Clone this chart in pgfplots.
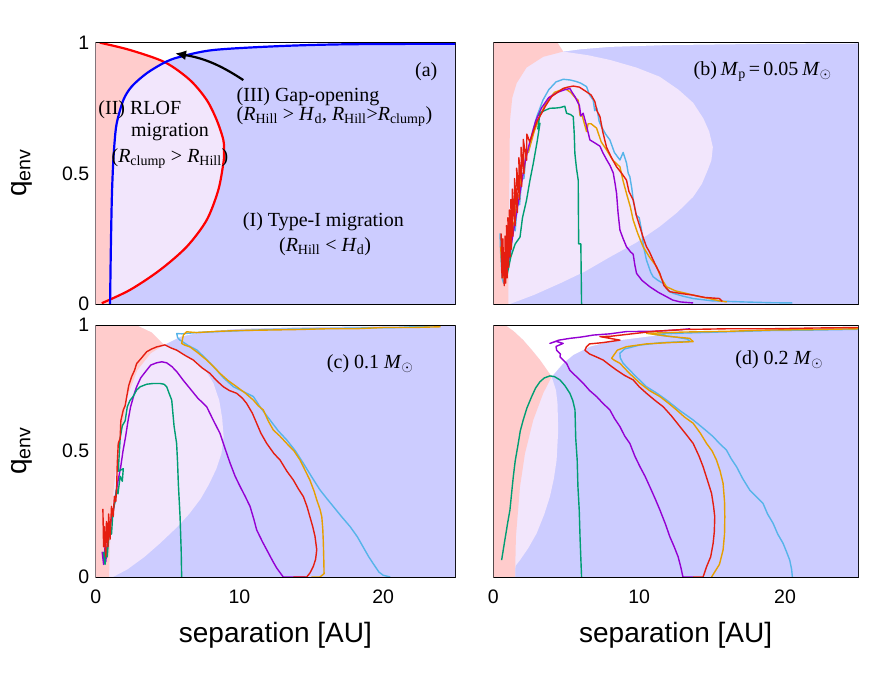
\documentclass[border=0pt]{standalone}
\usepackage{pgfplots}
\pgfplotsset{compat=1.18}
\usepackage{fontspec}
\setmainfont{Liberation Sans}
\newfontfamily\tnr{Liberation Serif}
\usetikzlibrary{arrows.meta}
\definecolor{pinkc}{RGB}{255,204,204}
\definecolor{lavc}{RGB}{242,230,252}
\definecolor{bluec}{RGB}{204,204,255}
\definecolor{gpurple}{HTML}{9400D3}
\definecolor{ggreen}{HTML}{009E73}
\definecolor{gcyan}{HTML}{56B4E9}
\definecolor{gorange}{HTML}{E69F00}
\definecolor{gred}{HTML}{E51E10}
\newcommand{\ann}{\tnr\fontsize{20}{24}\selectfont}
\newcommand{\Rs}[1]{\textit{R}\textsubscript{#1}}
\newcommand{\Hd}{\textit{H}\textsubscript{d}}
\pgfplotsset{
 panel/.style={scale only axis, anchor=south west, xmin=0, xmax=25, ymin=0, ymax=1,
  xtick={0,10,20}, minor xtick={0,1,...,25}, ytick={0,0.5,1},
  tick align=inside, major tick length=6pt, minor tick length=4pt,
  tick style={black, line width=0.6pt},
  axis line style={black, line width=1pt},
  tick label style={font=\fontsize{19.5}{21}\selectfont},
  /pgf/number format/assume math mode=true,
  yticklabel style={xshift=-3pt}, xticklabel style={yshift=-9pt},
  clip=true},
 fillp/.style={draw=none, forget plot},
 traj/.style={line width=1.4pt, forget plot, line join=round},
}
\begin{document}
\begin{tikzpicture}[x=1pt,y=1pt]
\useasboundingbox (0,0) rectangle (877,673);
% ---------------- (a)
\begin{axis}[panel, at={(95.7pt,369pt)}, width=359.3pt, height=261.3pt, xticklabels={}]
\addplot[fillp, fill=bluec] coordinates {(-1,-0.1) (26,-0.1) (26,1.1) (-1,1.1)};
\addplot[fillp, fill=white] coordinates {(-1,-0.1) (1.0,-0.1) (1.0,0) (1.05,0.2) (1.12,0.4) (1.2,0.52) (1.3,0.61) (1.46,0.691) (1.92,0.78) (2.5,0.832) (3.55,0.883) (4.82,0.925) (5.87,0.946) (8.19,0.972) (12.8,0.987) (17.5,0.994) (25,0.996) (26,0.996) (26,1.1) (-1,1.1)};
\addplot[fillp, fill=lavc] coordinates {(-1,1.1) (0.29,1.1) (0.29,1) (2.39,0.972) (4.82,0.925) (6.56,0.857) (7.72,0.781) (8.42,0.704) (8.88,0.628) (8.93,0.577) (8.88,0.538) (8.53,0.436) (7.72,0.321) (6.33,0.219) (4.47,0.130) (2.39,0.054) (0.42,0.003) (0.42,-0.1) (-1,-0.1)};
\addplot[fillp, fill=pinkc] coordinates {(-1,1.1) (0.29,1.1) (0.29,1) (2.39,0.972) (4.82,0.925) (3.55,0.883) (2.5,0.832) (1.92,0.78) (1.46,0.691) (1.3,0.61) (1.2,0.52) (1.12,0.4) (1.05,0.2) (1.0,0) (1.0,-0.1) (-1,-0.1)};
\addplot[forget plot, red, line width=2.2pt, smooth, tension=0.5] coordinates {(0.29,1) (2.39,0.972) (4.82,0.925) (6.56,0.857) (7.72,0.781) (8.42,0.704) (8.88,0.628) (8.93,0.577) (8.88,0.538) (8.53,0.436) (7.72,0.321) (6.33,0.219) (4.47,0.130) (2.39,0.054) (0.42,0.003)};
\addplot[forget plot, blue, line width=2.2pt, smooth, tension=0.5] coordinates {(1.0,0) (1.05,0.2) (1.12,0.4) (1.2,0.52) (1.3,0.61) (1.46,0.691) (1.92,0.78) (2.5,0.832) (3.55,0.883) (4.82,0.925) (5.87,0.946) (8.19,0.972) (12.8,0.987) (17.5,0.994) (25,0.996)};
\draw[-{Latex[length=11pt,width=10pt]}, line width=2.2pt] (axis cs:10.27,0.857) to[bend right=12] (axis cs:5.52,0.959);
\node[font=\ann] at (axis cs:23.0,0.889) {(a)};
\node[font=\ann, inner sep=0, anchor=west] at (axis cs:9.8,0.793) {(III) Gap-opening};
\node[font=\ann, inner sep=0, anchor=west] at (axis cs:9.8,0.717) {(\Rs{Hill} > \Hd, \Rs{Hill}>\Rs{clump})};
\node[font=\ann, inner sep=0, anchor=west] at (axis cs:0.18,0.742) {(II) RLOF};
\node[font=\ann] at (axis cs:5.17,0.66) {migration};
\node[font=\ann] at (axis cs:5.17,0.558) {(\Rs{clump} > \Rs{Hill})};
\node[font=\ann] at (axis cs:15.84,0.315) {(I) Type-I migration};
\node[font=\ann] at (axis cs:15.96,0.219) {(\Rs{Hill} < \Hd)};
\draw[line width=1pt] (rel axis cs:0,0) rectangle (rel axis cs:1,1);
\end{axis}
% ---------------- (b)
\begin{axis}[panel, at={(493.3pt,369pt)}, width=364.7pt, height=261.3pt, xticklabels={}, yticklabels={}]
\addplot[fillp, fill=bluec] coordinates {(-1,-0.1) (26,-0.1) (26,1.1) (-1,1.1)};
\addplot[fillp, fill=white] coordinates {(-1,-0.1) (1.03,-0.1) (1.03,0) (1.08,0.4) (1.14,0.70) (1.3,0.79) (1.6,0.845) (2.28,0.905) (3.42,0.946) (4.79,0.966) (6,0.975) (8,0.984) (12,0.991) (18,0.995) (25,0.997) (26,0.997) (26,1.1) (-1,1.1)};
\addplot[fillp, fill=lavc] coordinates {(-1,1.1) (4.4,1.1) (4.4,1) (4.79,0.966) (6.5,0.952) (8.0,0.934) (9.8,0.905) (11.4,0.87) (12.7,0.82) (13.7,0.77) (14.4,0.71) (14.8,0.66) (15.05,0.6) (14.95,0.55) (14.7,0.513) (14.3,0.46) (13.7,0.41) (12.6,0.35) (11.4,0.296) (9.8,0.235) (8.0,0.18) (6.3,0.125) (4.57,0.079) (2.8,0.035) (1.14,0) (1.14,-0.1) (-1,-0.1)};
\addplot[fillp, fill=pinkc] coordinates {(-1,1.1) (4.4,1.1) (4.4,1) (4.79,0.966) (3.42,0.946) (2.28,0.905) (1.6,0.845) (1.3,0.79) (1.14,0.70) (1.08,0.4) (1.03,0) (1.03,-0.1) (-1,-0.1)};
\addplot[traj, gcyan] coordinates {(0.46,0.27) (0.5,0.2) (0.6,0.1) (0.7,0.08) (0.85,0.1) (1.0,0.15) (1.2,0.2) (1.35,0.3) (1.5,0.28) (1.65,0.38) (1.8,0.38) (1.95,0.48) (2.1,0.48) (2.25,0.58) (2.4,0.58) (2.7,0.66) (3.0,0.72) (3.4,0.78) (3.8,0.82) (4.3,0.85) (4.8,0.86) (5.3,0.857) (5.71,0.851) (6.0,0.845) (6.39,0.832) (6.6,0.80) (6.85,0.78) (6.95,0.74) (7.1,0.75) (7.25,0.70) (7.4,0.68) (7.7,0.65) (7.99,0.628) (8.3,0.58) (8.68,0.551) (8.9,0.58) (9.13,0.54) (9.25,0.50) (9.36,0.487) (9.5,0.44) (9.59,0.398) (9.8,0.34) (10.0,0.33) (10.16,0.283) (10.3,0.22) (10.5,0.168) (10.8,0.12) (10.96,0.104) (11.3,0.09) (11.64,0.079) (12.0,0.05) (12.33,0.041) (13.0,0.03) (13.7,0.021) (15,0.012) (17.1,0.008) (19,0.005) (20.5,0.004)};
\addplot[traj, gorange] coordinates {(0.5,0.22) (0.65,0.1) (0.9,0.12) (1.2,0.22) (1.3,0.3) (1.5,0.32) (1.6,0.4) (1.8,0.42) (1.95,0.5) (2.1,0.5) (2.25,0.58) (2.4,0.58) (2.8,0.66) (3.2,0.72) (3.6,0.77) (4.2,0.81) (4.9,0.825) (5.3,0.81) (5.6,0.79) (5.82,0.78) (5.95,0.72) (6.1,0.72) (6.39,0.66) (6.5,0.69) (6.7,0.69) (7.08,0.673) (7.4,0.62) (7.76,0.59) (8.2,0.55) (8.68,0.525) (8.9,0.47) (9.13,0.423) (9.4,0.37) (9.59,0.321) (9.9,0.27) (10.27,0.219) (10.7,0.18) (11.19,0.143) (11.5,0.1) (11.87,0.066) (12.5,0.05) (13.2,0.041) (14.0,0.03) (14.8,0.021) (15.5,0.012) (16.0,0.008)};
\addplot[traj, gpurple] coordinates {(0.8,0.1) (1.0,0.15) (1.3,0.25) (1.45,0.3) (1.6,0.35) (1.9,0.45) (2.2,0.55) (2.5,0.62) (2.9,0.7) (3.3,0.75) (3.8,0.79) (4.4,0.81) (4.9,0.82) (5.25,0.825) (5.4,0.81) (5.59,0.794) (5.9,0.76) (6.0,0.72) (6.16,0.73) (6.4,0.68) (6.62,0.628) (7.0,0.615) (7.31,0.604) (7.5,0.58) (7.76,0.553) (8.0,0.53) (8.22,0.502) (8.35,0.46) (8.45,0.423) (8.55,0.35) (8.68,0.283) (8.9,0.25) (9.13,0.219) (9.4,0.2) (9.59,0.19) (9.7,0.15) (9.82,0.117) (10.2,0.09) (10.73,0.066) (11.3,0.045) (11.87,0.028) (12.3,0.015) (12.8,0.008) (13.7,0.004)};
\addplot[traj, ggreen] coordinates {(0.9,0.1) (1.2,0.18) (1.5,0.23) (1.83,0.256) (2.0,0.33) (2.28,0.398) (2.5,0.47) (2.74,0.538) (3.0,0.62) (3.2,0.692) (3.05,0.67) (3.2,0.73) (3.5,0.74) (3.88,0.749) (4.3,0.75) (4.6,0.752) (4.9,0.757) (5.02,0.73) (5.3,0.725) (5.48,0.717) (5.55,0.65) (5.59,0.577) (5.7,0.52) (5.82,0.474) (5.85,0.23) (6.0,0.23) (6.05,0)};
\addplot[traj, gred] coordinates {(0.53,0.27) (0.6,0.1) (0.65,0.25) (0.75,0.07) (0.7,0.2) (0.85,0.08) (0.8,0.26) (0.95,0.1) (0.9,0.3) (1.05,0.14) (1.0,0.33) (1.15,0.18) (1.1,0.36) (1.25,0.21) (1.2,0.4) (1.35,0.26) (1.3,0.44) (1.5,0.3) (1.45,0.48) (1.65,0.35) (1.6,0.52) (1.8,0.4) (1.75,0.56) (1.95,0.45) (1.9,0.6) (2.1,0.5) (2.05,0.63) (2.28,0.55) (2.3,0.65) (2.5,0.62) (2.74,0.66) (3.0,0.70) (3.31,0.73) (3.6,0.76) (4.0,0.794) (4.4,0.81) (4.79,0.825) (5.1,0.83) (5.48,0.834) (5.9,0.83) (6.39,0.812) (6.7,0.80) (6.96,0.775) (7.1,0.74) (7.31,0.717) (7.5,0.66) (7.76,0.6) (8.1,0.56) (8.45,0.525) (8.8,0.50) (9.13,0.474) (9.3,0.43) (9.59,0.398) (9.8,0.34) (10.05,0.295) (10.3,0.25) (10.5,0.219) (10.7,0.20) (10.96,0.168) (11.2,0.14) (11.42,0.117) (11.7,0.07) (12.1,0.047) (12.9,0.04) (13.7,0.034) (14.5,0.025) (15.5,0.021) (15.7,0.01)};
\node[font=\ann, anchor=east, inner sep=0] at (axis cs:23.2,0.889) {(b)\hspace{0.2em}\textit{M}\textsubscript{p}\hspace{0.15em}=\hspace{0.15em}0.05\hspace{0.2em}\textit{M}$_\odot$};
\draw[line width=1pt] (rel axis cs:0,0) rectangle (rel axis cs:1,1);
\end{axis}
% ---------------- (c)
\begin{axis}[panel, at={(95.7pt,96pt)}, width=359.3pt, height=252pt]
\addplot[fillp, fill=bluec] coordinates {(-1,-0.1) (26,-0.1) (26,1.1) (-1,1.1)};
\addplot[fillp, fill=white] coordinates {(-1,-0.1) (0.93,-0.1) (0.93,0) (1.04,0.226) (1.39,0.425) (1.74,0.557) (2.2,0.716) (2.9,0.821) (3.83,0.888) (4.75,0.921) (5.92,0.954) (7.5,0.974) (10,0.985) (15,0.992) (25,0.997) (26,0.997) (26,1.1) (-1,1.1)};
\addplot[fillp, fill=lavc] coordinates {(-1,1.1) (2.8,1.1) (2.8,1) (3.9,0.97) (4.75,0.921) (6.0,0.89) (7.03,0.855) (7.7,0.815) (8.19,0.769) (8.6,0.7) (8.8,0.63) (8.9,0.557) (8.75,0.49) (8.4,0.43) (7.9,0.37) (7.3,0.31) (6.5,0.25) (5.7,0.2) (4.5,0.135) (3.4,0.08) (2.2,0.03) (1.2,0) (1.2,-0.1) (-1,-0.1)};
\addplot[fillp, fill=pinkc] coordinates {(-1,1.1) (2.8,1.1) (2.8,1) (3.9,0.97) (4.75,0.921) (3.83,0.888) (2.9,0.821) (2.2,0.716) (1.74,0.557) (1.39,0.425) (1.04,0.226) (0.93,0) (0.93,-0.1) (-1,-0.1)};
\addplot[traj, gcyan] coordinates {(23.5,0.997) (21,0.99) (18,0.988) (15,0.985) (12,0.982) (9,0.975) (7,0.97) (6,0.965) (5.64,0.966) (5.7,0.95) (5.87,0.94) (6.4,0.92) (7.03,0.901) (7.6,0.87) (8.19,0.835) (8.9,0.79) (9.58,0.755) (10.3,0.735) (10.97,0.716) (11.5,0.67) (12.13,0.623) (12.7,0.58) (13.29,0.544) (13.9,0.5) (14.45,0.451) (15.0,0.4) (15.6,0.346) (16.1,0.31) (16.53,0.28) (17.1,0.24) (17.7,0.2) (18.2,0.16) (18.6,0.12) (19.0,0.08) (19.3,0.054) (19.7,0.02) (20.0,0.007) (20.5,0)};
\addplot[traj, gorange] coordinates {(24.0,0.993) (22,0.99) (20,0.99) (18,0.985) (16,0.985) (14,0.982) (12,0.98) (10,0.978) (8.5,0.975) (7,0.97) (6.33,0.973) (6.1,0.96) (5.98,0.927) (6.2,0.92) (6.56,0.913) (7.1,0.89) (7.72,0.861) (8.2,0.835) (8.65,0.808) (9.2,0.78) (9.81,0.755) (10.4,0.73) (10.97,0.702) (11.3,0.68) (11.66,0.663) (12.0,0.62) (12.36,0.583) (12.8,0.56) (13.29,0.53) (13.8,0.5) (14.22,0.464) (14.6,0.42) (14.9,0.385) (15.2,0.34) (15.38,0.306) (15.6,0.27) (15.73,0.24) (15.8,0.19) (15.84,0.135) (15.87,0.07) (15.89,0.013) (15.6,0) (15.0,0)};
\addplot[traj, gpurple] coordinates {(0.45,0.1) (0.55,0.05) (0.65,0.12) (0.7,0.06) (0.85,0.15) (1.0,0.2) (1.15,0.25) (1.27,0.279) (1.4,0.33) (1.55,0.38) (1.74,0.437) (1.9,0.5) (2.08,0.557) (2.25,0.62) (2.43,0.676) (2.7,0.73) (2.85,0.755) (3.13,0.79) (3.55,0.821) (3.83,0.841) (4.24,0.85) (4.6,0.854) (4.94,0.85) (5.3,0.835) (5.64,0.815) (6.1,0.78) (6.56,0.748) (7.1,0.71) (7.72,0.676) (8.2,0.62) (8.65,0.57) (9.0,0.51) (9.35,0.452) (9.7,0.40) (10.04,0.36) (10.4,0.32) (10.74,0.28) (11.0,0.23) (11.2,0.187) (11.6,0.14) (11.9,0.108) (12.3,0.065) (12.6,0.035) (13.05,0) (14.6,0)};
\addplot[traj, ggreen] coordinates {(0.55,0.1) (0.65,0.05) (0.7,0.12) (0.8,0.08) (0.9,0.15) (1.0,0.2) (1.1,0.17) (1.2,0.26) (1.35,0.3) (1.45,0.35) (1.55,0.33) (1.7,0.4) (1.85,0.38) (1.92,0.43) (1.6,0.42) (1.6,0.45) (1.7,0.55) (1.85,0.6) (2.05,0.62) (2.2,0.676) (2.38,0.7) (2.6,0.716) (2.85,0.742) (3.1,0.755) (3.55,0.765) (4.0,0.768) (4.47,0.768) (4.75,0.765) (4.94,0.755) (5.1,0.73) (5.29,0.702) (5.45,0.6) (5.63,0.53) (5.7,0.45) (5.75,0.37) (5.87,0.24) (5.95,0.1) (5.98,0)};
\addplot[traj, gred] coordinates {(0.5,0.27) (0.55,0.12) (0.6,0.2) (0.7,0.08) (0.75,0.22) (0.85,0.12) (0.9,0.25) (1.0,0.15) (1.1,0.28) (1.22,0.24) (1.3,0.32) (1.4,0.3) (1.46,0.36) (1.5,0.45) (1.57,0.53) (1.7,0.55) (1.75,0.62) (1.92,0.663) (2.05,0.68) (2.16,0.716) (2.3,0.76) (2.5,0.795) (2.7,0.82) (2.85,0.847) (3.2,0.87) (3.55,0.894) (3.9,0.905) (4.24,0.913) (4.82,0.921) (5.2,0.91) (5.64,0.9) (6.2,0.88) (6.79,0.861) (7.4,0.83) (7.95,0.808) (8.4,0.78) (8.88,0.755) (9.3,0.74) (9.81,0.729) (10.2,0.71) (10.5,0.689) (10.9,0.65) (11.2,0.61) (11.5,0.57) (11.9,0.53) (12.4,0.49) (12.83,0.464) (13.3,0.42) (13.75,0.385) (14.1,0.35) (14.45,0.319) (14.7,0.28) (14.9,0.24) (15.1,0.2) (15.26,0.161) (15.38,0.108) (15.3,0.07) (15.14,0.042) (14.9,0.015) (14.68,0) (13.75,0)};
\node[font=\ann] at (axis cs:19.1,0.848) {(c) 0.1 \textit{M}$_\odot$};
\draw[line width=1pt] (rel axis cs:0,0) rectangle (rel axis cs:1,1);
\end{axis}
% ---------------- (d)
\begin{axis}[panel, at={(493.3pt,96pt)}, width=364.7pt, height=252pt, yticklabels={}]
\addplot[fillp, fill=bluec] coordinates {(-1,-0.1) (26,-0.1) (26,1.1) (-1,1.1)};
\addplot[fillp, fill=white] coordinates {(-1,-0.1) (1.49,-0.1) (1.49,0) (1.55,0.16) (1.83,0.358) (2.17,0.49) (2.74,0.623) (3.42,0.729) (4.0,0.795) (4.79,0.848) (5.48,0.881) (6.6,0.914) (8,0.935) (11.4,0.96) (15,0.975) (25,0.99) (26,0.99) (26,1.1) (-1,1.1)};
\addplot[fillp, fill=lavc] coordinates {(-1,1.1) (0.8,1.1) (0.8,1) (1.4,0.975) (2.05,0.94) (2.65,0.9) (3.2,0.861) (4.0,0.795) (4.3,0.74) (4.4,0.689) (4.45,0.583) (4.34,0.464) (4.15,0.39) (3.88,0.319) (3.5,0.25) (2.97,0.173) (2.4,0.115) (1.83,0.067) (0.92,0) (0.92,-0.1) (-1,-0.1)};
\addplot[fillp, fill=pinkc] coordinates {(-1,1.1) (0.8,1.1) (0.8,1) (1.4,0.975) (2.05,0.94) (2.65,0.9) (3.2,0.861) (4.0,0.795) (3.42,0.729) (2.74,0.623) (2.17,0.49) (1.83,0.358) (1.55,0.16) (1.49,0) (1.49,-0.1) (-1,-0.1)};
\addplot[traj, gcyan] coordinates {(25,0.983) (22,0.98) (19,0.978) (16,0.973) (13,0.968) (11,0.963) (12.5,0.952) (13.3,0.944) (13.5,0.935) (11.5,0.93) (10,0.92) (9.0,0.905) (8.68,0.888) (8.7,0.87) (8.9,0.848) (9.7,0.8) (10.5,0.755) (11.2,0.73) (11.88,0.702) (12.8,0.66) (13.7,0.623) (14.4,0.59) (15.07,0.557) (15.5,0.53) (15.98,0.504) (16.3,0.47) (16.67,0.438) (17.1,0.39) (17.58,0.345) (18.0,0.32) (18.49,0.292) (18.8,0.25) (19.18,0.213) (19.5,0.17) (19.86,0.134) (20.1,0.1) (20.32,0.067) (20.45,0.03) (20.5,0)};
\addplot[traj, gorange] coordinates {(25,0.985) (22,0.982) (19,0.98) (16,0.975) (13,0.972) (10.5,0.967) (12,0.955) (13.47,0.947) (13.7,0.934) (12,0.93) (10.5,0.925) (9.13,0.914) (8.5,0.9) (8.11,0.868) (8.3,0.86) (8.68,0.848) (9.3,0.81) (10.05,0.769) (10.7,0.74) (11.42,0.716) (12.0,0.69) (12.56,0.663) (13.1,0.635) (13.7,0.61) (14.2,0.57) (14.62,0.53) (15.0,0.5) (15.3,0.464) (15.55,0.42) (15.75,0.372) (15.85,0.3) (15.87,0.239) (15.85,0.17) (15.75,0.107) (15.5,0.05) (14.96,0)};
\addplot[traj, gpurple] coordinates {(13.5,0.985) (12.56,0.98) (11,0.975) (9.13,0.974) (8,0.965) (6.85,0.96) (6,0.952) (5.25,0.947) (4.5,0.94) (3.88,0.927) (4.3,0.935) (4.79,0.927) (4.3,0.915) (4.34,0.9) (4.6,0.885) (4.57,0.874) (4.8,0.86) (5.02,0.848) (5.25,0.82) (5.7,0.795) (6.16,0.769) (6.6,0.74) (7.08,0.716) (7.5,0.69) (7.99,0.663) (8.3,0.63) (8.68,0.597) (9.0,0.56) (9.36,0.53) (9.7,0.48) (10.05,0.438) (10.4,0.4) (10.73,0.358) (11.1,0.31) (11.42,0.266) (11.8,0.21) (12.1,0.16) (12.4,0.12) (12.67,0.08) (12.85,0.04) (13.0,0) (13.7,0)};
\addplot[traj, ggreen] coordinates {(0.57,0.067) (0.8,0.15) (1.0,0.22) (1.14,0.266) (1.25,0.33) (1.37,0.398) (1.5,0.46) (1.71,0.53) (1.85,0.58) (2.05,0.623) (2.3,0.67) (2.63,0.716) (2.9,0.75) (3.2,0.775) (3.5,0.79) (3.88,0.798) (4.2,0.795) (4.57,0.782) (4.9,0.76) (5.25,0.729) (5.45,0.7) (5.6,0.663) (5.65,0.55) (5.75,0.464) (5.8,0.36) (5.89,0.266) (5.95,0.15) (6.05,0)};
\addplot[traj, gred] coordinates {(25,0.99) (22,0.988) (19,0.985) (16,0.985) (13,0.982) (11,0.975) (9.5,0.965) (8,0.955) (7.31,0.954) (8.68,0.94) (7.5,0.93) (6.6,0.925) (6.39,0.914) (6.28,0.9) (6.6,0.885) (7.0,0.875) (7.53,0.861) (8.0,0.84) (8.45,0.821) (9.0,0.8) (9.59,0.782) (10.0,0.755) (10.5,0.729) (11.1,0.7) (11.64,0.676) (12.2,0.64) (12.79,0.597) (13.3,0.56) (13.7,0.53) (14.1,0.48) (14.38,0.438) (14.7,0.38) (14.96,0.332) (15.1,0.28) (15.18,0.239) (15.15,0.18) (15.07,0.134) (14.9,0.08) (14.62,0.041) (14.38,0) (13.7,0)};
\node[font=\ann] at (axis cs:19.6,0.861) {(d) 0.2 \textit{M}$_\odot$};
\draw[line width=1pt] (rel axis cs:0,0) rectangle (rel axis cs:1,1);
\end{axis}
% ---------------- axis labels
\node[font=\fontsize{28}{30}\selectfont, rotate=90] at (22,500) {q\textsubscript{env}};
\node[font=\fontsize{28}{30}\selectfont, rotate=90] at (22,222) {q\textsubscript{env}};
\node[font=\fontsize{28}{30}\selectfont] at (275.4,38) {separation [AU]};
\node[font=\fontsize{28}{30}\selectfont] at (675.6,38) {separation [AU]};
\end{tikzpicture}
\end{document}
